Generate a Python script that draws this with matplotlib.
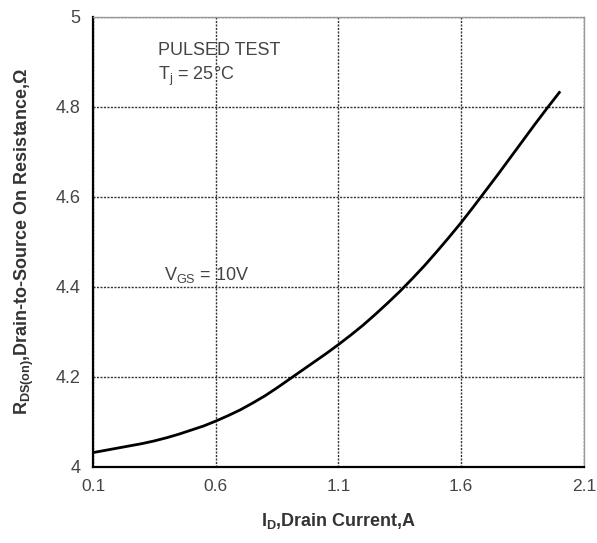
import matplotlib.pyplot as plt

plt.rcParams['font.family'] = ['Liberation Sans', 'DejaVu Sans']
plt.rcParams['mathtext.fontset'] = 'custom'
plt.rcParams['mathtext.rm'] = 'Liberation Sans'
plt.rcParams['mathtext.bf'] = 'Liberation Sans:bold'

# drain current (A) and on-resistance (ohm)
current = [0.1, 0.15, 0.2, 0.25, 0.3, 0.35, 0.4, 0.45, 0.5, 0.55, 0.6, 0.65,
           0.7, 0.75, 0.8, 0.85, 0.9, 0.95, 1.0, 1.05, 1.1, 1.15, 1.2, 1.25,
           1.3, 1.35, 1.4, 1.45, 1.5, 1.55, 1.6, 1.65, 1.7, 1.75, 1.8, 1.85,
           1.9, 1.95, 2.0]
resistance = [4.032, 4.037, 4.042, 4.047, 4.052, 4.058, 4.065, 4.073, 4.082,
              4.091, 4.102, 4.114, 4.127, 4.142, 4.158, 4.176, 4.195, 4.214,
              4.233, 4.252, 4.272, 4.293, 4.315, 4.339, 4.364, 4.390, 4.418,
              4.447, 4.478, 4.510, 4.543, 4.578, 4.614, 4.650, 4.687, 4.724,
              4.761, 4.797, 4.832]

xticks = [0.1, 0.6, 1.1, 1.6, 2.1]
yticks = [4, 4.2, 4.4, 4.6, 4.8, 5]
ytick_labels = ['4', '4.2', '4.4', '4.6', '4.8', '5']

fig = plt.figure(figsize=(5.97, 5.43), dpi=100)
ax = fig.add_axes([0.156, 0.14, 0.822, 0.829])

ax.plot(current, resistance, color='black', lw=2)

ax.set_xlim(0.1, 2.1)
ax.set_ylim(4, 5)
ax.set_xticks(xticks)
ax.set_xticklabels([str(t) for t in xticks])
ax.set_yticks(yticks)
ax.set_yticklabels(ytick_labels)
ax.tick_params(length=0, labelsize=13, labelcolor='#444444', pad=9)
ax.tick_params(axis='x', labelsize=12.5)

ax.grid(True, color='#333333', linestyle=(0, (1.5, 1)), lw=1)

for s in ['left', 'bottom']:
    ax.spines[s].set_linewidth(1.6)
    ax.spines[s].set_color('black')
for s in ['top', 'right']:
    ax.spines[s].set_linewidth(1)
    ax.spines[s].set_color('#999999')

ax.text(0.132, 0.915, 'PULSED TEST', fontsize=13, color='#444444',
        transform=ax.transAxes)
ax.text(0.132, 0.86, r'T$_\mathregular{j}$ = 25°C', fontsize=13,
        color='#444444', transform=ax.transAxes)
ax.text(0.145, 0.415, r'V$_\mathregular{GS}$ = 10V', fontsize=13,
        color='#444444', transform=ax.transAxes)

ax.set_xlabel(r'I$_\mathbf{D}$,Drain Current,A', fontsize=13, fontweight='bold',
              color='#333333', labelpad=12)
ax.set_ylabel(r'R$_\mathbf{DS(on)}$,Drain-to-Source On Resistance,Ω', fontsize=13,
              fontweight='bold', color='#333333', labelpad=14)

fig.savefig('out.png', dpi=100)
